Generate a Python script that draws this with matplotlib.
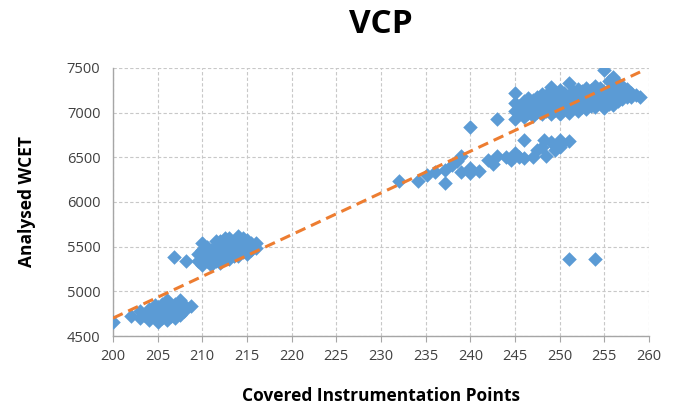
# ---------- IMPORT ------------
import numpy as np
import matplotlib
matplotlib.use("Agg")
import matplotlib.pyplot as plt
# ------------------------------


# ---------- DATA --------------
# covered instrumentation points (x) and analysed WCET (y)
cluster_a_x = [200, 202, 203, 203, 203.5, 204, 204, 204, 204.5, 204.7, 205, 205, 205,
               205.5, 205.5, 205.5, 206, 206, 206, 206, 206.5, 206.5, 207, 207, 207,
               207.5, 207.5, 207.5, 208, 208, 208.7]
cluster_a_y = [4660, 4720, 4700, 4780, 4740, 4680, 4760, 4800, 4720, 4850, 4660, 4740, 4820,
               4700, 4780, 4860, 4680, 4760, 4840, 4900, 4720, 4800, 4700, 4780, 4860,
               4740, 4820, 4900, 4780, 4850, 4840]

cluster_b_x = [206.8, 208.2, 209.5, 209.5, 210, 210, 210, 210, 210.5, 210.5, 210.5,
               211, 211, 211, 211.5, 211.5, 211.5, 211.5, 212, 212, 212, 212,
               212.5, 212.5, 212.5, 212.5, 213, 213, 213, 213, 213.5, 213.5, 213.5,
               214, 214, 214, 214, 214.5, 214.5, 214.5, 215, 215, 215, 215.5, 215.5,
               216, 216]
cluster_b_y = [5380, 5340, 5340, 5420, 5300, 5380, 5460, 5540, 5340, 5420, 5500,
               5300, 5380, 5460, 5340, 5420, 5500, 5560, 5320, 5400, 5480, 5560,
               5360, 5440, 5520, 5600, 5360, 5440, 5520, 5600, 5400, 5480, 5560,
               5400, 5480, 5560, 5620, 5440, 5520, 5600, 5420, 5500, 5580, 5460, 5540,
               5480, 5540]

cluster_c_x = [232, 234.2, 235.2, 236, 237.2, 237.2, 238, 238.5, 239, 239, 240, 240, 240,
               241, 242, 242.5, 243, 243, 244, 244.5, 245, 245.5, 246, 246, 247, 247.5,
               248, 248.3, 248.5, 249, 249.5, 250, 250, 250.3, 251]
cluster_c_y = [6240, 6230, 6300, 6340, 6210, 6360, 6410, 6460, 6510, 6340, 6840, 6380, 6330,
               6350, 6470, 6430, 6510, 6930, 6500, 6470, 6550, 6500, 6490, 6690, 6500, 6580,
               6620, 6690, 6520, 6670, 6580, 6690, 6620, 6660, 6680]

cluster_d_x = [245, 245, 245, 245, 245.5, 245.5, 246, 246, 246, 246.5, 246.5, 246.5,
               247, 247, 247, 247.5, 247.5, 247.5, 248, 248, 248, 248, 248.5, 248.5, 248.5,
               249, 249, 249, 249, 249.5, 249.5, 249.5, 250, 250, 250, 250, 250.5, 250.5, 250.5,
               251, 251, 251, 251, 251.5, 251.5, 251.5, 252, 252, 252, 252, 252.5, 252.5, 252.5,
               253, 253, 253, 253, 253.5, 253.5, 253.5, 254, 254, 254, 254, 254.5, 254.5, 254.5,
               255, 255, 255, 255, 255.5, 255.5, 255.5, 256, 256, 256, 256, 256.5, 256.5, 256.5,
               257, 257, 257, 257.5, 257.5, 258, 258, 258.5, 259]
cluster_d_y = [6930, 7020, 7110, 7220, 6980, 7070, 6950, 7040, 7130, 7000, 7090, 7160,
               6960, 7050, 7140, 7010, 7100, 7180, 6980, 7070, 7160, 7210, 7020, 7110, 7200,
               6980, 7070, 7160, 7290, 7030, 7120, 7220, 6990, 7080, 7170, 7250, 7040, 7130, 7220,
               7000, 7090, 7180, 7330, 7050, 7140, 7240, 7020, 7110, 7200, 7270, 7060, 7150, 7240,
               7040, 7130, 7220, 7280, 7070, 7160, 7250, 7060, 7150, 7240, 7300, 7110, 7200, 7280,
               7050, 7140, 7230, 7480, 7100, 7190, 7350, 7090, 7180, 7270, 7400, 7130, 7220, 7330,
               7150, 7240, 7300, 7180, 7260, 7170, 7220, 7200, 7170]

outlier_x = [251, 254]
outlier_y = [5360, 5360]

# Excel linear trendline, endpoints
trend_x = [200, 259]
trend_y = [4700, 7455]
# ------------------------------


# ---------- CONFIG ------------
blue = "#5B9BD5"
orange = "#ED7D31"
grid_col = "#C8C8C8"
axis_col = "#A6A6A6"
plt.rcParams['font.family'] = ['Open Sans', 'DejaVu Sans']
# ------------------------------


x = np.array(cluster_a_x + cluster_b_x + cluster_c_x + cluster_d_x + outlier_x, dtype=float)
y = np.array(cluster_a_y + cluster_b_y + cluster_c_y + cluster_d_y + outlier_y, dtype=float)

fig = plt.figure(figsize=(6.93, 4.13), dpi=100)
ax = fig.add_axes([0.163, 0.1864, 0.7735, 0.649])

ax.scatter(x, y, marker="D", s=55, color=blue, linewidths=0, zorder=3)
ax.plot(trend_x, trend_y, color=orange, lw=2.2, ls=(0, (3.5, 2)), zorder=4)

ax.set_xlim(200, 260)
ax.set_ylim(4500, 7500)
ax.set_xticks(np.arange(200, 261, 5))
ax.set_yticks(np.arange(4500, 7501, 500))
ax.grid(True, color=grid_col, ls=(0, (3, 2)), lw=0.8)
ax.set_axisbelow(True)

for side in ["top", "right"]:
    ax.spines[side].set_visible(False)
for side in ["left", "bottom"]:
    ax.spines[side].set_color(axis_col)
    ax.spines[side].set_linewidth(1.0)
ax.tick_params(axis="x", colors=axis_col, labelcolor="#404040", labelsize=10.5, length=4, pad=5)
ax.tick_params(axis="y", colors=axis_col, labelcolor="#404040", labelsize=10.5, length=0, pad=9)

ax.set_title("VCP", fontsize=24, fontweight="bold", pad=25)
ax.set_xlabel("Covered Instrumentation Points", fontsize=12.5, fontweight="bold", labelpad=17)
ax.set_ylabel("Analysed WCET", fontsize=12.5, fontweight="bold", labelpad=22)

fig.savefig("out.png", dpi=100)
